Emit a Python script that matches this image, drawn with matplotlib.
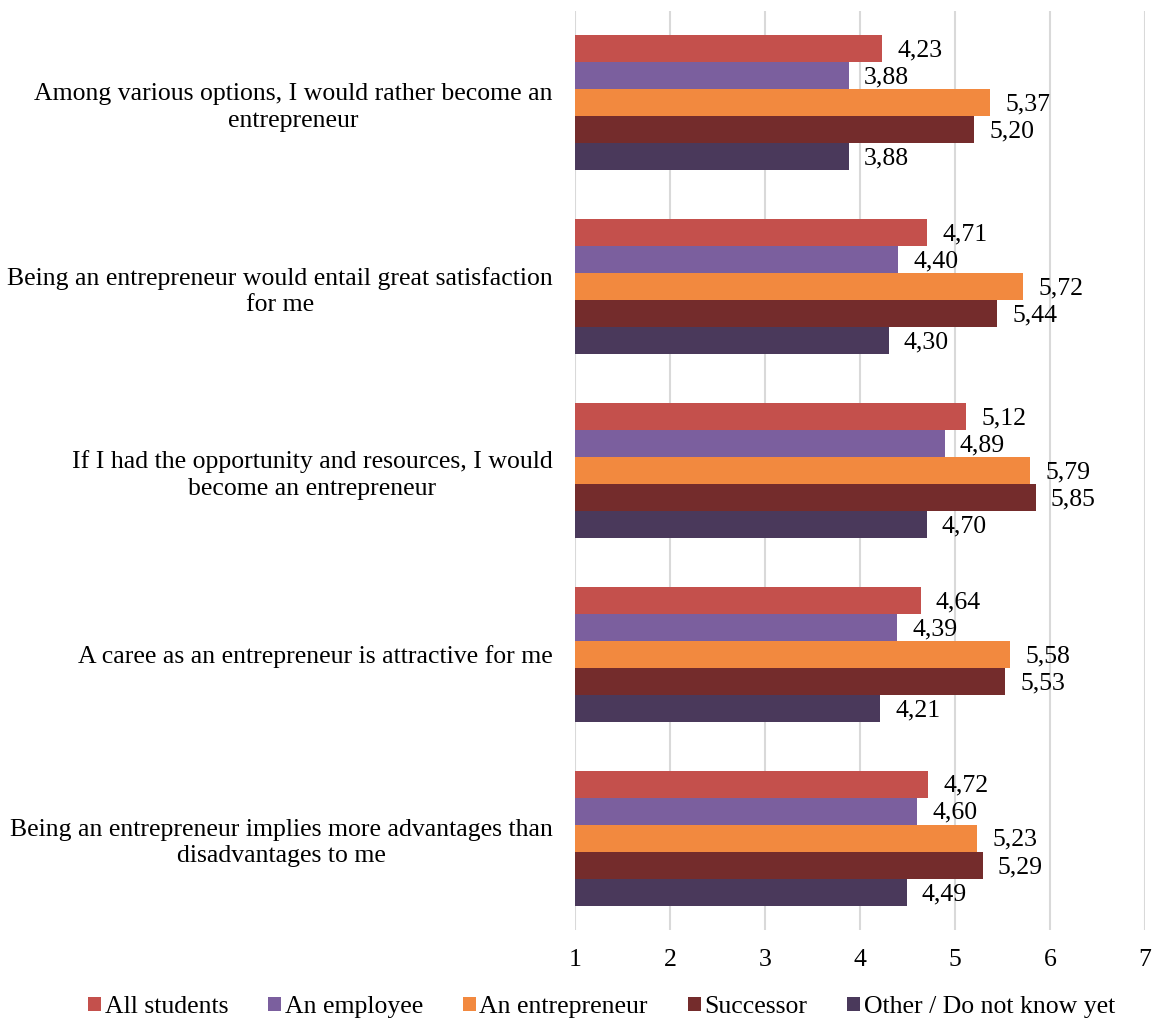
import matplotlib.pyplot as plt
import numpy as np

plt.rcParams['font.family'] = ['Liberation Serif', 'DejaVu Serif']

statements = [
    "Among various options, I would rather become an\nentrepreneur",
    "Being an entrepreneur would entail great satisfaction\nfor me",
    "If I had the opportunity and resources, I would\nbecome an entrepreneur",
    "A caree as an entrepreneur is attractive for me",
    "Being an entrepreneur implies more advantages than\ndisadvantages to me",
]
groups = ["All students", "An employee", "An entrepreneur", "Successor",
          "Other / Do not know yet"]
colors = ["#C4504C", "#7B5F9E", "#F2893F", "#742C2C", "#4A395B"]

all_students = [4.23, 4.71, 5.12, 4.64, 4.72]
employee = [3.88, 4.40, 4.89, 4.39, 4.60]
entrepreneur = [5.37, 5.72, 5.79, 5.58, 5.23]
successor = [5.20, 5.44, 5.85, 5.53, 5.29]
other = [3.88, 4.30, 4.70, 4.21, 4.49]
series = [all_students, employee, entrepreneur, successor, other]

fs = 18.5

fig = plt.figure(figsize=(11.57, 10.25), dpi=100)
ax = fig.add_axes([575 / 1157, 95 / 1025, 570 / 1157, 919 / 1025])

y = np.arange(len(statements))
h = 0.147
for i, (vals, name, c) in enumerate(zip(series, groups, colors)):
    pos = y + (i - 2) * h
    ax.barh(pos, np.array(vals) - 1, left=1, height=h, color=c, label=name, zorder=3)
    for p, v in zip(pos, vals):
        ax.text(v + 0.16, p + 0.01, f"{v:.2f}".replace(".", ","), va="center",
                ha="left", fontsize=fs, zorder=4)

ax.set_xlim(1, 7)
ax.set_ylim(4.5, -0.5)
ax.set_xticks(range(1, 8))
ax.set_yticks(y)
ax.set_yticklabels(statements, multialignment="center", fontsize=fs, linespacing=1.25)
ax.tick_params(axis="both", length=0, labelsize=fs)
ax.tick_params(axis="y", pad=16)
ax.tick_params(axis="x", pad=14)
ax.grid(axis="x", color="#D9D9D9", linewidth=1.5, zorder=0)
for s in ax.spines.values():
    s.set_visible(False)

fig.legend(loc="lower center", bbox_to_anchor=(0.52, -0.016), ncol=5, frameon=False,
           fontsize=fs, handlelength=0.5, handleheight=0.5, handletextpad=0.15,
           columnspacing=1.55)

fig.savefig("out.png", dpi=100)
